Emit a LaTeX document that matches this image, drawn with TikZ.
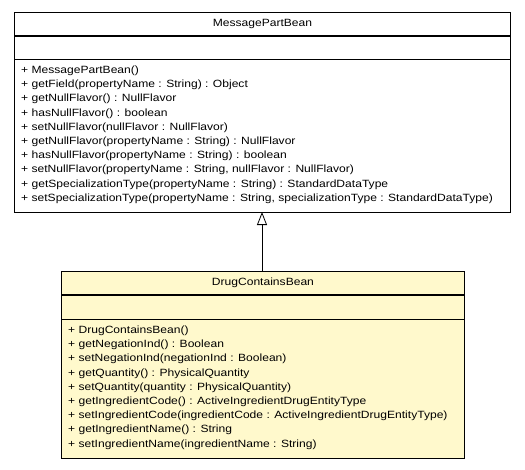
\documentclass[tikz,border=0pt]{standalone}
\usepackage{fontspec}
\setmainfont[FakeStretch=1.15]{Liberation Sans}
\usetikzlibrary{arrows.meta}
\definecolor{beanfill}{RGB}{255,249,204}
\definecolor{linec}{RGB}{0,0,0}
\begin{document}
\begin{tikzpicture}[x=1pt,y=-1pt,
  comp/.style={draw=linec, line width=0.9pt, rectangle, inner sep=0pt, anchor=north west},
  title/.style={font=\fontsize{10.5}{12}\selectfont, inner sep=0pt},
  member/.style={font=\fontsize{10.5}{12}\selectfont, inner sep=0pt, anchor=west, text height=8pt, text depth=1pt},
  inherit/.style={draw=linec, line width=0.8pt, -{Triangle[open,length=13pt,width=10pt,fill=white]}}
]
\useasboundingbox (0,0) rectangle (525,469);
% MessagePartBean
\node[comp, fill=white, minimum width=496pt, minimum height=153pt] (mpbM) at (14,59) {};
\node[comp, fill=white, minimum width=496pt, minimum height=24pt] (mpbA) at (14,35) {};
\node[comp, fill=white, minimum width=496pt, minimum height=23pt] (mpbT) at (14,12) {};
\draw[line width=1.3pt] (mpbT.south west) -- (mpbT.south east);
\node[title] (mpbName) at (mpbT.center) {MessagePartBean};
\foreach \t [count=\i] in {
  {+ MessagePartBean()},
  {+ getField(propertyName : String) : Object},
  {+ getNullFlavor() : NullFlavor},
  {+ hasNullFlavor() : boolean},
  {+ setNullFlavor(nullFlavor : NullFlavor)},
  {+ getNullFlavor(propertyName : String) : NullFlavor},
  {+ hasNullFlavor(propertyName : String) : boolean},
  {+ setNullFlavor(propertyName : String, nullFlavor : NullFlavor)},
  {+ getSpecializationType(propertyName : String) : StandardDataType},
  {+ setSpecializationType(propertyName : String, specializationType : StandardDataType)}}
  \node[member] (mpbL\i) at (21,{70+(\i-1)*14.2}) {\t};
% DrugContainsBean
\node[comp, fill=beanfill, minimum width=403pt, minimum height=139pt] (dcbM) at (61,319) {};
\node[comp, fill=beanfill, minimum width=403pt, minimum height=25pt] (dcbA) at (61,294) {};
\node[comp, fill=beanfill, minimum width=403pt, minimum height=23pt] (dcbT) at (61,271) {};
\draw[line width=1.3pt] (dcbT.south west) -- (dcbT.south east);
\node[title] (dcbName) at (dcbT.center) {DrugContainsBean};
\foreach \t [count=\i] in {
  {+ DrugContainsBean()},
  {+ getNegationInd() : Boolean},
  {+ setNegationInd(negationInd : Boolean)},
  {+ getQuantity() : PhysicalQuantity},
  {+ setQuantity(quantity : PhysicalQuantity)},
  {+ getIngredientCode() : ActiveIngredientDrugEntityType},
  {+ setIngredientCode(ingredientCode : ActiveIngredientDrugEntityType)},
  {+ getIngredientName() : String},
  {+ setIngredientName(ingredientName : String)}}
  \node[member] (dcbL\i) at (68,{330+(\i-1)*14.2}) {\t};
% generalization
\coordinate (dcbTop) at (262,271);
\coordinate (mpbBot) at (262,212);
\draw[inherit] (dcbTop) -- (mpbBot);
\end{tikzpicture}
\end{document}
